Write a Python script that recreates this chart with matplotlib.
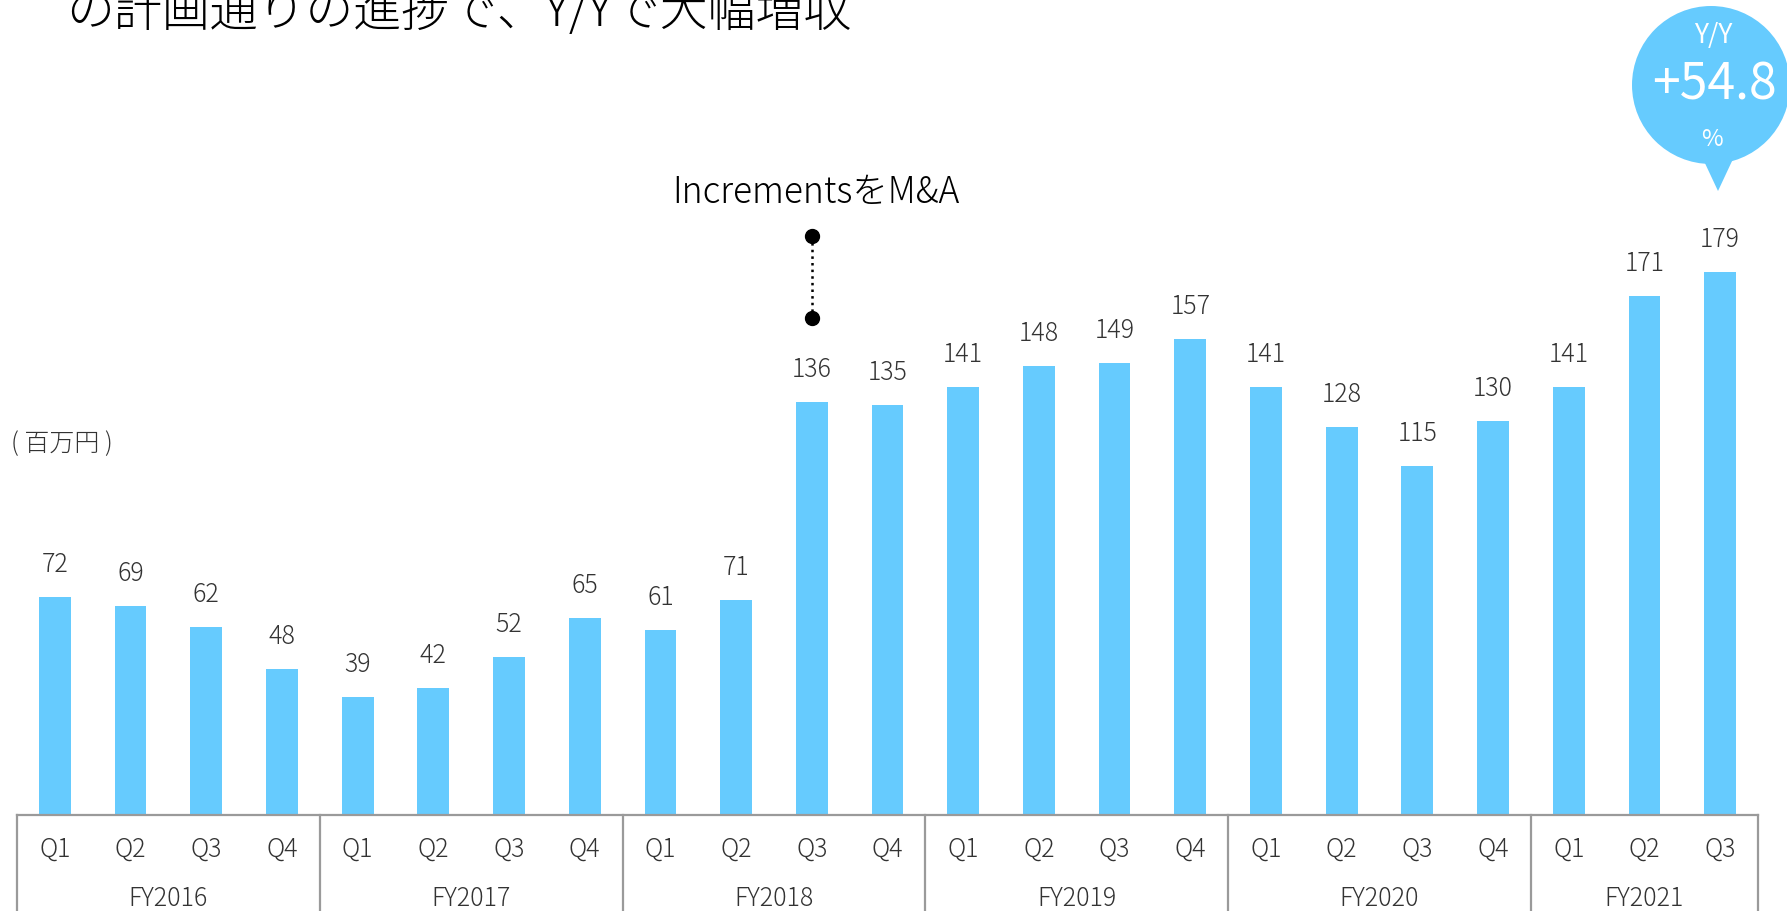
import matplotlib
matplotlib.use("Agg")
import matplotlib.pyplot as plt
import matplotlib.transforms as mtransforms
from matplotlib.patches import Circle, Polygon

plt.rcParams['font.family'] = ['Noto Sans CJK JP', 'DejaVu Sans']

# data
fiscal_years = ['FY2016', 'FY2017', 'FY2018', 'FY2019', 'FY2020', 'FY2021']
quarters = ['Q1', 'Q2', 'Q3', 'Q4']
sales = [72, 69, 62, 48,
         39, 42, 52, 65,
         61, 71, 136, 135,
         141, 148, 149, 157,
         141, 128, 115, 130,
         141, 171, 179]
title = 'の計画通りの進捗で、Y/Yで大幅増収'
unit_label = '( 百万円 )'
note_text = 'IncrementsをM&A'
note_index = 10
yoy_text = '+54.8'

BAR = '#66CBFE'
TXT = '#333333'
LINE = '#9a9a9a'

W, H = 1787, 912
fig = plt.figure(figsize=(W / 100, H / 100), dpi=100)
ax = fig.add_axes([17 / W, (H - 816) / H, 1741 / W, 816 / H])

n = len(sales)
xs = list(range(n))
ax.bar(xs, sales, width=0.42, color=BAR, zorder=2)
ax.set_xlim(-0.5, n - 0.5)
ax.set_ylim(0, 269)
ax.axis('off')

# value labels
for x, v in zip(xs, sales):
    ax.annotate(str(v), (x, v), xytext=(0, 24), textcoords='offset points',
                ha='center', va='center', fontsize=18, color=TXT, fontweight='light')

# category axis with group boxes
trans = mtransforms.blended_transform_factory(ax.transData, ax.transAxes)
ax.plot([-0.5, n - 0.5], [0, 0], transform=trans, color=LINE, lw=1.6, clip_on=False)
for g, fy in enumerate(fiscal_years):
    start = g * 4
    count = min(4, n - start)
    for q in range(count):
        ax.text(start + q, -33 / 816, quarters[q], transform=trans, ha='center', va='center',
                fontsize=18, color=TXT, fontweight='light')
    ax.text(start + (count - 1) / 2, -83 / 816, fy, transform=trans, ha='center', va='center',
            fontsize=18, color=TXT, fontweight='light')
    ax.plot([start - 0.5, start - 0.5], [0, -0.2], transform=trans, color=LINE, lw=1.6,
            clip_on=False)
ax.plot([n - 0.5, n - 0.5], [0, -0.2], transform=trans, color=LINE, lw=1.6, clip_on=False)

# unit label
fig.text(11 / W, 1 - 444 / H, unit_label, ha='left', va='center', fontsize=18, color=TXT,
         fontweight='light')

# M&A annotation
v = sales[note_index]
ax.plot([note_index, note_index], [v + 28, v + 55], ls=':', color='black', lw=1.8, zorder=3)
ax.plot([note_index, note_index], [v + 28, v + 55], 'o', color='black', ms=10, zorder=4)
ax.text(note_index + 0.05, v + 69.5, note_text, ha='center', va='center', fontsize=25.5,
        color='black', fontweight='light')

# title (cut at top)
fig.text(66 / W, 1 - 12 / H, title, ha='left', va='center', fontsize=34.5, color='black',
         fontweight='light')

# Y/Y badge
t = fig.dpi_scale_trans
fig.add_artist(Circle((17.11, (H - 86) / 100), 0.79, transform=t, color=BAR, lw=0))
fig.add_artist(Polygon([(17.03, (H - 160) / 100), (17.33, (H - 160) / 100),
                        (17.18, (H - 192) / 100)], closed=True, transform=t, color=BAR, lw=0))
fig.text(1713 / W, 1 - 36 / H, 'Y/Y', ha='center', va='center', fontsize=19, color='white')
fig.text(1714 / W, 1 - 86 / H, yoy_text, ha='center', va='center', fontsize=36, color='white')
fig.text(1712 / W, 1 - 139 / H, '%', ha='center', va='center', fontsize=17, color='white')

fig.savefig('out.png', dpi=100)
